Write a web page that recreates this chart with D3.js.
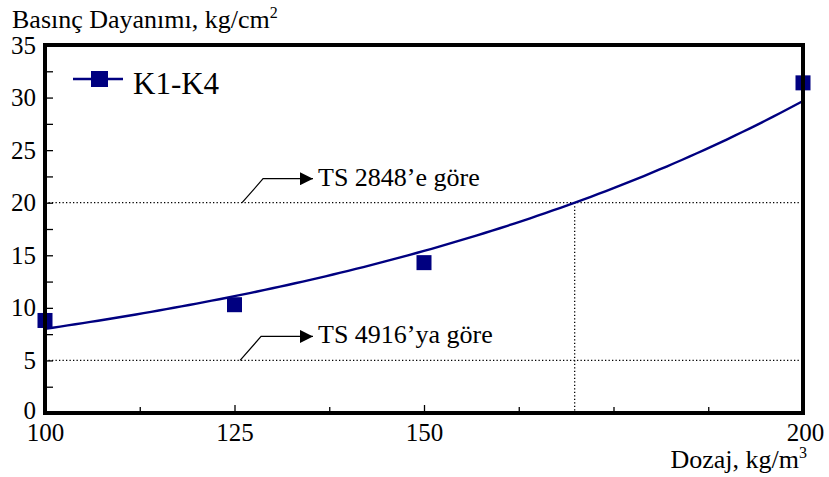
<!DOCTYPE html>
<html><head><meta charset="utf-8">
<script src="https://cdn.jsdelivr.net/npm/d3@7"></script>
</head>
<body style="margin:0;padding:0;background:#fff"><svg id="c" width="829" height="477" font-family="Liberation Serif"></svg>
<script>
const dozaj = [100, 125, 150, 200];
const basinc = [8.8, 10.3, 14.3, 31.4];
const xTickLabels = [100, 125, 150, 200];
const xMinorTicks = [112.5, 137.5, 162.5, 175, 187.5];
const yTickLabels = [0, 5, 10, 15, 20, 25, 30, 35];
const yMinorTicks = [2.5, 7.5, 12.5, 17.5, 22.5, 27.5, 32.5];
const limitValues = [20, 5];
const limitLabels = ["TS 2848’e göre", "TS 4916’ya göre"];
const seriesName = "K1-K4";

const FONT = "Liberation Serif";
const svg = d3.select("#c");
const L = 45, R = 803, T = 45, B = 413;
const x = d3.scaleLinear().domain([100, 200]).range([L, R]);
const y = d3.scaleLinear().domain([0, 35]).range([B, T]);
const navy = "#000080";

// exponential regression from data
const lx = dozaj, ly = basinc.map(Math.log);
const mx = d3.mean(lx), my = d3.mean(ly);
const b = d3.sum(lx, (v, i) => (v - mx) * (ly[i] - my)) / d3.sum(lx, v => (v - mx) ** 2);
const a0 = my - b * mx;
const fit = v => Math.exp(a0 + b * v);
const cross = (Math.log(limitValues[0]) - a0) / b;

// dotted limit lines
svg.selectAll(".lim").data(limitValues).enter().append("line")
  .attr("x1", L).attr("x2", R).attr("y1", d => y(d)).attr("y2", d => y(d))
  .attr("stroke", "#000").attr("stroke-width", 1.3).attr("stroke-dasharray", "1.3,2.2");
svg.append("line").attr("x1", x(cross)).attr("x2", x(cross))
  .attr("y1", y(limitValues[0])).attr("y2", B)
  .attr("stroke", "#000").attr("stroke-width", 1.3).attr("stroke-dasharray", "1.3,2.2");

// annotations
svg.append("defs").append("marker").attr("id", "arr").attr("viewBox", "0 0 10 10")
  .attr("refX", 10).attr("refY", 5).attr("markerWidth", 16).attr("markerHeight", 13)
  .attr("markerUnits", "userSpaceOnUse").attr("orient", "auto")
  .append("path").attr("d", "M0,0L10,5L0,10Z").attr("fill", "#000");
limitValues.forEach((v, i) => {
  const x0 = x(126) - (i ? 2 : 0), y0 = y(v);
  svg.append("path")
    .attr("d", `M${x0},${y0}L${x0 + 21},${y0 - 24}L${313},${y0 - 24}`)
    .attr("fill", "none").attr("stroke", "#000").attr("stroke-width", 1.2)
    .attr("marker-end", "url(#arr)");
  svg.append("text").attr("x", 318).attr("y", y0 - 17)
    .attr("font-family", FONT).attr("font-size", 26).text(limitLabels[i]);
});

// fit curve
const xs = d3.range(100, 200.01, 1);
svg.append("path").datum(xs)
  .attr("d", d3.line().x(d => x(d)).y(d => y(fit(d))))
  .attr("fill", "none").attr("stroke", navy).attr("stroke-width", 2.4);

// markers
svg.selectAll(".pt").data(dozaj).enter().append("rect")
  .attr("x", d => x(d) - 7.5).attr("y", (d, i) => y(basinc[i]) - 7.5)
  .attr("width", 15).attr("height", 15).attr("fill", navy);

// frame
svg.append("rect").attr("x", L).attr("y", T).attr("width", R - L).attr("height", B - T)
  .attr("fill", "none").attr("stroke", "#000").attr("stroke-width", 4);

// ticks
const yAxis = d3.axisLeft(y).tickValues(yTickLabels.concat(yMinorTicks))
  .tickSize(-8).tickPadding(10).tickFormat(d => yTickLabels.includes(d) ? d : "");
const gy = svg.append("g").attr("transform", `translate(${L},0)`).call(yAxis);
const xAxis = d3.axisBottom(x).tickValues(xTickLabels.concat(xMinorTicks))
  .tickSize(-8).tickPadding(12).tickFormat(d => xTickLabels.includes(d) ? d : "");
const gx = svg.append("g").attr("transform", `translate(0,${B})`).call(xAxis);
[gx, gy].forEach(g => {
  g.attr("font-family", FONT);
  g.select(".domain").remove();
  g.selectAll("line").attr("stroke", "#000").attr("stroke-width", 1.3);
  g.selectAll("text").attr("font-size", 25).attr("font-family", FONT).attr("fill", "#000");
});
gx.selectAll(".tick").filter(d => !xTickLabels.includes(d)).select("line").attr("y2", -6);
gx.selectAll("text").attr("dy", "0.62em");
gx.selectAll(".tick").filter(d => d === 200).select("text").attr("dx", 2);
gy.selectAll("text").attr("dx", 1);
gy.selectAll(".tick").filter(d => d === 0).select("text").attr("dy", "0.22em");

// titles
const t1 = svg.append("text").attr("x", 12).attr("y", 28).attr("font-family", FONT).attr("font-size", 26);
t1.append("tspan").text("Basınç Dayanımı, kg/cm");
t1.append("tspan").attr("dy", -10).attr("font-size", 16).text("2");
const t2 = svg.append("text").attr("x", 807).attr("y", 468).attr("font-family", FONT).attr("font-size", 26).attr("text-anchor", "end");
t2.append("tspan").text("Dozaj, kg/m");
t2.append("tspan").attr("dy", -10).attr("font-size", 16).text("3");

// legend
svg.append("line").attr("x1", 73).attr("x2", 123).attr("y1", 79).attr("y2", 79)
  .attr("stroke", navy).attr("stroke-width", 2.4);
svg.append("rect").attr("x", 91).attr("y", 71).attr("width", 17).attr("height", 16).attr("fill", navy);
svg.append("text").attr("x", 133).attr("y", 94).attr("font-family", FONT).attr("font-size", 31).text(seriesName);
</script></body></html>
